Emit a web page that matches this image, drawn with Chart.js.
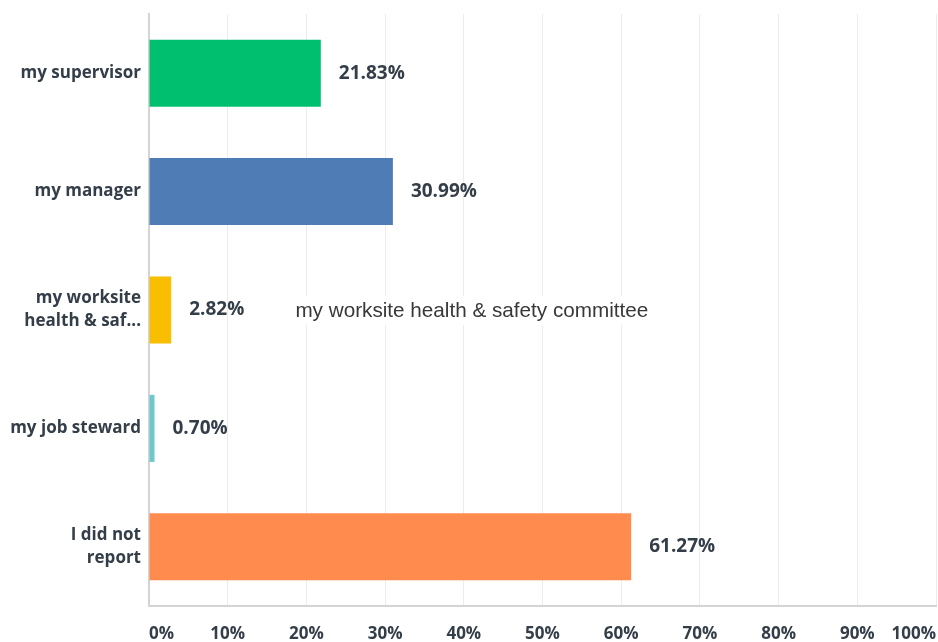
<!DOCTYPE html>
<html>
<head>
<meta charset="utf-8">
<script src="https://cdn.jsdelivr.net/npm/chart.js@4.4.1/dist/chart.umd.min.js"></script>
<style>
  html, body { margin: 0; padding: 0; background: #ffffff; }
  #wrap { width: 938px; height: 642px; position: relative; }
</style>
</head>
<body>
<div id="wrap"><canvas id="chart"></canvas></div>
<script>
// Answer choices (axis labels, wrapped / truncated as shown on the axis)
const categories = [
  'my supervisor',
  'my manager',
  ['my worksite', 'health & saf...'],
  'my job steward',
  ['I did not', 'report']
];
// Full text of the hovered answer choice
const hoverLabel = 'my worksite health & safety committee';
const hoverIndex = 2;
const hoverStartValue = 18.6;
// Share of respondents per answer (%)
const percentages = [21.83, 30.99, 2.82, 0.70, 61.27];
const barColors = ['#00bf6f', '#507cb6', '#f9be00', '#6bc8cd', '#ff8b4f'];
// Axis range and ticks (%)
const axisMin = 0;
const axisMax = 100;
const tickStep = 10;

const textColor = '#333e48';
const boldFont = '"Open Sans", "DejaVu Sans", sans-serif';

// Percent labels to the right of each bar
const valueLabels = {
  id: 'valueLabels',
  afterDatasetsDraw(chart) {
    const ctx = chart.ctx;
    const meta = chart.getDatasetMeta(0);
    ctx.save();
    ctx.font = 'bold 19px ' + boldFont;
    ctx.fillStyle = textColor;
    ctx.textAlign = 'left';
    ctx.textBaseline = 'middle';
    meta.data.forEach((bar, i) => {
      ctx.fillText(percentages[i].toFixed(2) + '%', bar.x + 18, bar.y);
    });
    ctx.restore();
  }
};

// Hover caption with the full answer text
const hoverCaption = {
  id: 'hoverCaption',
  afterDatasetsDraw(chart) {
    const ctx = chart.ctx;
    const xs = chart.scales.x, ys = chart.scales.y;
    const x = xs.getPixelForValue(hoverStartValue);
    const y = ys.getPixelForValue(hoverIndex);
    ctx.save();
    ctx.font = '20.7px "Liberation Sans", Arial, sans-serif';
    const w = ctx.measureText(hoverLabel).width;
    ctx.fillStyle = '#ffffff';
    ctx.fillRect(x - 10, y - 14, w + 20, 29);
    ctx.fillStyle = '#383838';
    ctx.textAlign = 'left';
    ctx.textBaseline = 'middle';
    ctx.fillText(hoverLabel, x, y + 1);
    ctx.restore();
  }
};

new Chart(document.getElementById('chart'), {
  type: 'bar',
  data: {
    labels: categories,
    datasets: [{
      data: percentages,
      backgroundColor: barColors,
      borderWidth: 0,
      barPercentage: 0.566,
      categoryPercentage: 1.0
    }]
  },
  options: {
    indexAxis: 'y',
    responsive: true,
    maintainAspectRatio: false,
    animation: false,
    layout: { padding: { top: 14, right: 2, left: 0, bottom: 0 } },
    plugins: {
      legend: { display: false },
      tooltip: { enabled: false }
    },
    scales: {
      x: {
        min: axisMin,
        max: axisMax,
        afterFit(scale) {
          scale.height = 36;
          scale.paddingLeft = 0;
          scale.paddingRight = 0;
        },
        grid: { color: '#ececec', lineWidth: 1, drawTicks: false },
        border: { color: '#d4d4d4', width: 2 },
        ticks: {
          stepSize: tickStep,
          align: 'inner',
          padding: 18,
          color: textColor,
          font: { family: boldFont, size: 17, weight: 'bold' },
          callback: (v) => v + '%'
        }
      },
      y: {
        afterFit(scale) {
          scale.width = 149;
          scale.paddingTop = 0;
          scale.paddingBottom = 0;
        },
        grid: { display: false, drawTicks: false },
        border: { color: '#d4d4d4', width: 2 },
        ticks: {
          padding: 8,
          color: textColor,
          font: { family: boldFont, size: 17, weight: 'bold', lineHeight: 1.35 }
        }
      }
    }
  },
  plugins: [valueLabels, hoverCaption]
});
</script>
</body>
</html>
